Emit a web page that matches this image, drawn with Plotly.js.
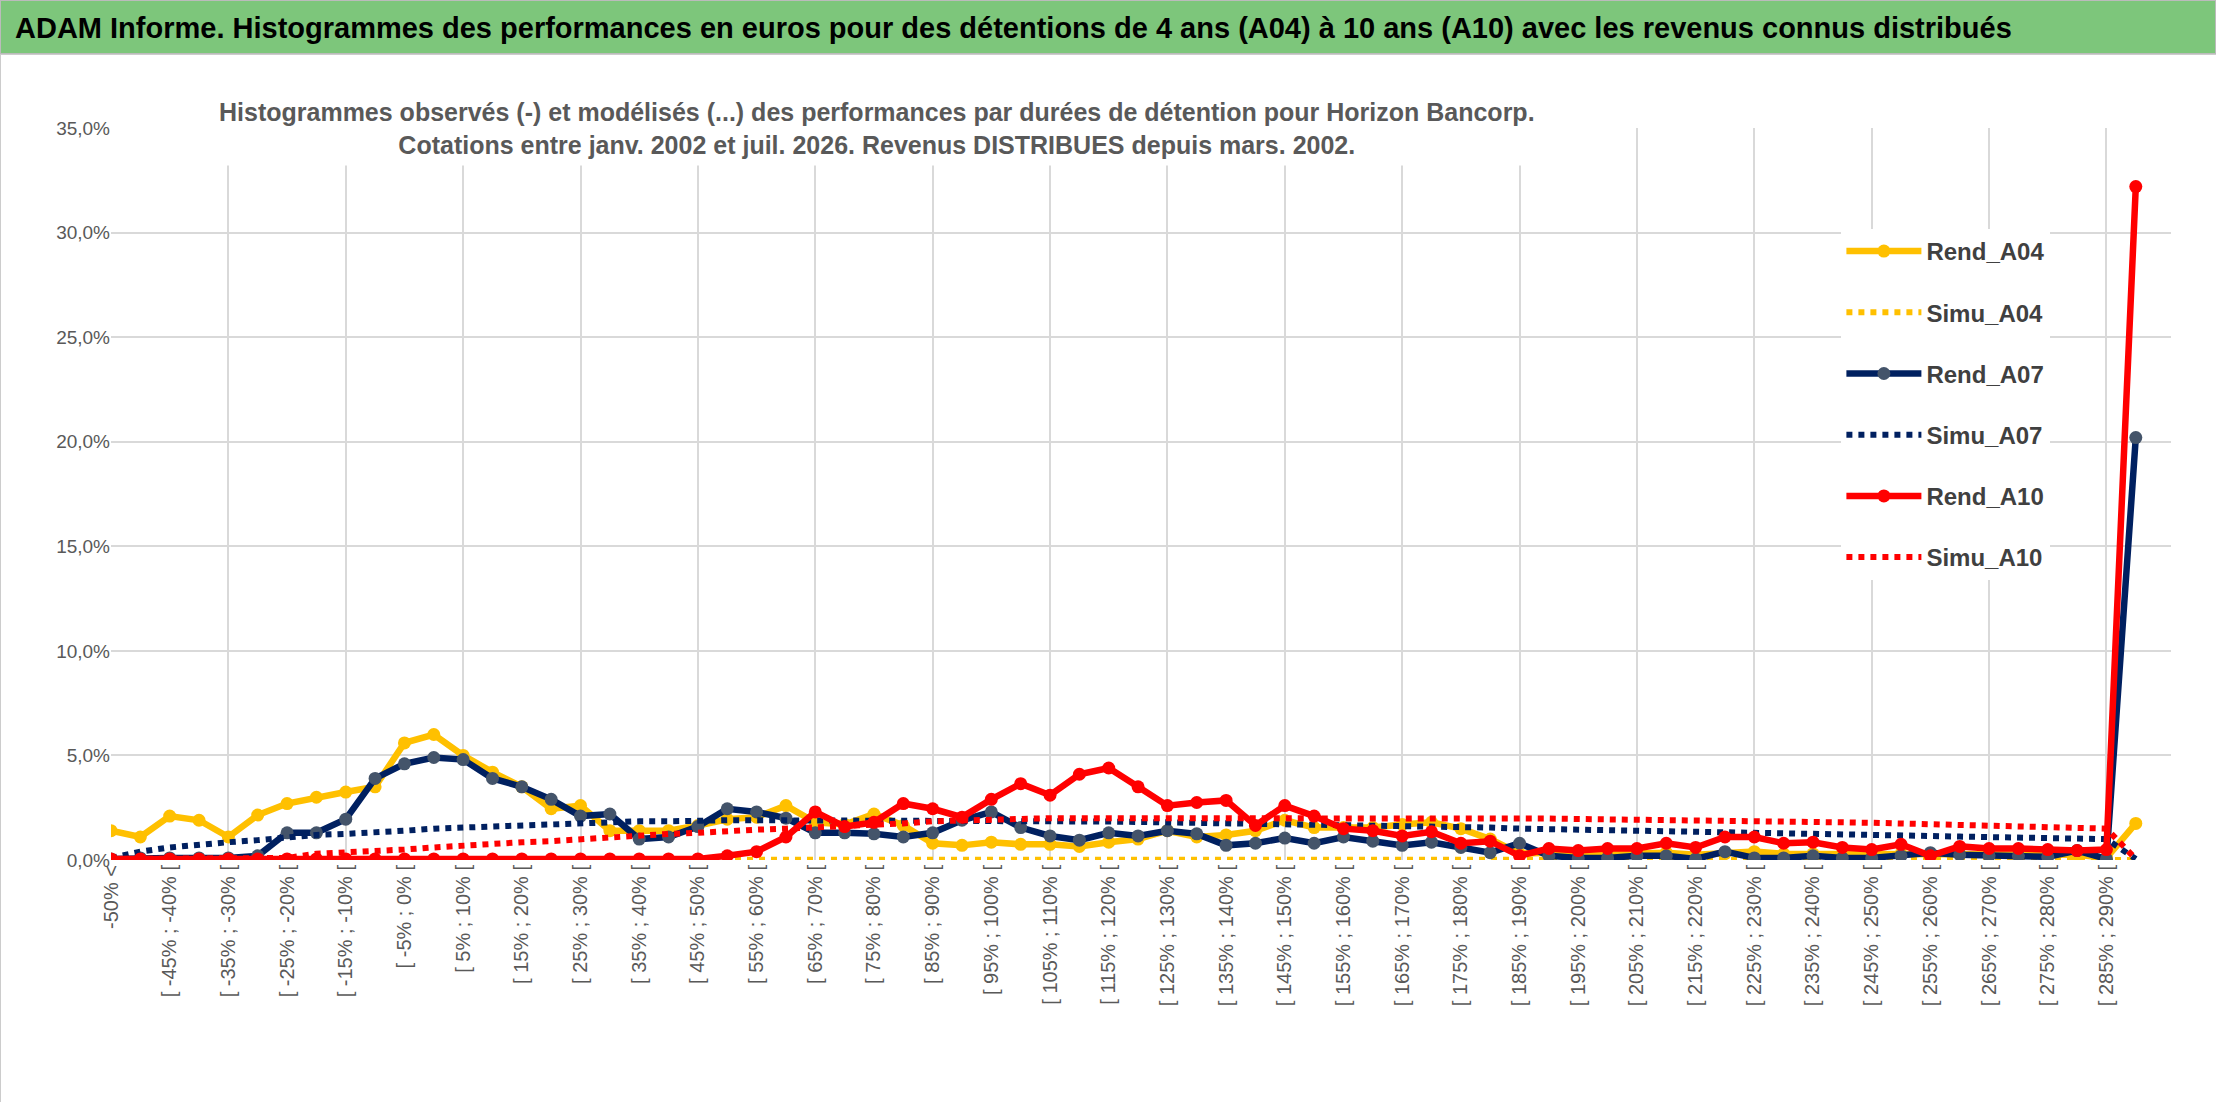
<!DOCTYPE html>
<html><head><meta charset="utf-8">
<script src="https://cdn.plot.ly/plotly-3.0.1.min.js"></script>
<style>
body{margin:0;width:2216px;height:1102px;overflow:hidden;background:#fff;font-family:"Liberation Sans Narrow","Liberation Sans",sans-serif}
#hdr{height:54px;background:#7dc67b;color:#000;font-weight:bold;font-size:29px;line-height:54px;padding-left:14px;white-space:nowrap;border:1px solid #bbb;box-sizing:border-box}
#chart{width:2216px;height:1048px;border:1px solid #ccc;box-sizing:border-box}
</style></head><body>
<div id="hdr">ADAM Informe. Histogrammes des performances en euros pour des détentions de 4 ans (A04) à 10 ans (A10) avec les revenus connus distribués</div>
<div id="chart"></div>
<script>
const categories = ["-50% &lt;"];
for (let a = -50; a < 290; a += 5) categories.push("[ " + a + "% ; " + (a + 5) + "% [");
categories.push("&gt; 290%");

const rendA04 = [1.4,1.1,2.1,1.9,1.1,2.15,2.7,3.0,3.25,3.5,5.6,6.0,5.0,4.2,3.5,2.45,2.6,1.4,1.4,1.4,1.65,1.95,2.05,2.6,1.8,1.7,2.2,1.65,0.8,0.7,0.85,0.75,0.75,0.65,0.85,1.0,1.4,1.1,1.2,1.4,1.9,1.55,1.55,1.55,1.7,1.8,1.5,1.0,0.3,0.35,0.25,0.3,0.3,0.35,0.25,0.3,0.4,0.3,0.3,0.25,0.3,0.3,0.25,0.3,0.3,0.25,0.3,0.25,0.1,1.75];
const simuA04 = [0.02,0.02,0.02,0.02,0.02,0.02,0.02,0.02,0.02,0.02,0.02,0.02,0.02,0.02,0.02,0.02,0.02,0.02,0.02,0.02,0.02,0.02,0.02,0.02,0.02,0.02,0.02,0.02,0.02,0.02,0.02,0.02,0.02,0.02,0.02,0.02,0.02,0.02,0.02,0.02,0.02,0.02,0.02,0.02,0.02,0.02,0.02,0.02,0.02,0.02,0.02,0.02,0.02,0.02,0.02,0.02,0.02,0.02,0.02,0.02,0.02,0.02,0.02,0.02,0.02,0.02,0.02,0.02,0.02,0.0];
const rendA07 = [0.05,0.1,0.1,0.1,0.1,0.2,1.3,1.3,1.95,3.9,4.6,4.9,4.8,3.9,3.5,2.9,2.1,2.2,1.0,1.1,1.6,2.45,2.3,2.0,1.3,1.3,1.25,1.1,1.3,1.9,2.3,1.55,1.15,0.95,1.3,1.15,1.4,1.25,0.7,0.8,1.05,0.8,1.1,0.9,0.7,0.85,0.6,0.35,0.8,0.2,0.1,0.1,0.2,0.2,0.05,0.4,0.1,0.1,0.2,0.1,0.1,0.2,0.35,0.25,0.2,0.2,0.15,0.45,0.05,20.2];
const simuA07 = [0.1,0.4,0.6,0.75,0.85,0.95,1.1,1.2,1.25,1.3,1.4,1.5,1.55,1.6,1.7,1.72,1.75,1.8,1.85,1.85,1.9,1.9,1.9,1.9,1.9,1.9,1.9,1.9,1.9,1.9,1.9,1.88,1.86,1.85,1.84,1.82,1.8,1.78,1.76,1.75,1.72,1.7,1.68,1.66,1.64,1.62,1.6,1.55,1.5,1.48,1.45,1.43,1.4,1.38,1.35,1.32,1.3,1.28,1.25,1.22,1.2,1.18,1.15,1.12,1.1,1.08,1.05,1.02,1.0,0.05];
const rendA10 = [0.05,0.05,0.05,0.05,0.05,0.05,0.05,0.05,0.05,0.05,0.05,0.05,0.05,0.05,0.05,0.05,0.05,0.05,0.05,0.05,0.05,0.2,0.4,1.1,2.3,1.6,1.8,2.7,2.45,2.05,2.9,3.65,3.1,4.1,4.4,3.5,2.6,2.75,2.85,1.65,2.6,2.1,1.5,1.4,1.15,1.35,0.8,0.9,0.2,0.55,0.45,0.55,0.55,0.8,0.6,1.1,1.1,0.8,0.85,0.6,0.5,0.75,0.2,0.65,0.55,0.55,0.5,0.45,0.5,32.2];
const simuA10 = [0.05,0.05,0.05,0.05,0.05,0.05,0.1,0.3,0.35,0.45,0.5,0.6,0.7,0.75,0.85,0.9,1.0,1.1,1.15,1.25,1.3,1.4,1.45,1.5,1.55,1.6,1.7,1.75,1.85,1.9,1.95,1.95,2.0,2.0,2.0,2.0,2.0,2.05,2.05,2.05,2.05,2.05,2.05,2.05,2.05,2.05,2.0,2.0,2.0,1.98,1.96,1.95,1.94,1.92,1.9,1.88,1.86,1.84,1.82,1.8,1.78,1.75,1.72,1.7,1.66,1.62,1.58,1.54,1.5,0.05];

const yTickVals = [0,5,10,15,20,25,30,35];
const yTickText = ["0,0%","5,0%","10,0%","15,0%","20,0%","25,0%","30,0%","35,0%"];

const idx = categories.map((_, i) => i);
const xTickVals = idx.filter(i => i % 2 === 0 && i <= 68);
const xTickText = xTickVals.map(i => categories[i]);

function rend(name, y, line, marker) {
  return {x: idx, y: y, name: name, type: 'scatter', mode: 'lines+markers',
    line: {color: line, width: 6.5}, marker: {color: marker, size: 13},
    legendgroup: name};
}
function simu(name, y, color) {
  return {x: idx, y: y, name: name, type: 'scatter', mode: 'lines',
    line: {color: color, width: 6, dash: 'dot'}, legendgroup: name};
}
const traces = [
  rend('Rend_A04', rendA04, '#ffc000', '#ffc000'),
  simu('Simu_A04', simuA04, '#ffc000'),
  rend('Rend_A07', rendA07, '#002060', '#44546a'),
  simu('Simu_A07', simuA07, '#002060'),
  rend('Rend_A10', rendA10, '#ff0000', '#ff0000'),
  simu('Simu_A10', simuA10, '#ff0000'),
  {x: [0, 70], y: [0, 0], xaxis: 'x2', mode: 'lines', line: {width: 0}, showlegend: false, hoverinfo: 'skip'}
];
const layout = {
  width: 2216, height: 1048,
  margin: {l: 110, r: 46, t: 73, b: 243},
  paper_bgcolor: '#fff', plot_bgcolor: '#fff',
  font: {family: '"Liberation Sans Narrow","Liberation Sans",sans-serif', color: '#595959'},
  showlegend: true,
  legend: {x: 0.84, y: 0.862, xanchor: 'left', yanchor: 'top', itemwidth: 75,
    font: {size: 24, color: '#404040', weight: 'bold'},
    traceorder: 'grouped', tracegroupgap: 27, bgcolor: '#fff'},
  xaxis: {range: [0, 70.2], tickvals: xTickVals, ticktext: xTickText, tickangle: -90,
    tickfont: {size: 20, color: '#595959'}, showgrid: false, zeroline: false, showline: false, ticks: ''},
  xaxis2: {range: [0, 70.2], overlaying: 'x', dtick: 4, tick0: 0, showgrid: true, gridcolor: '#d9d9d9',
    gridwidth: 2, showticklabels: false, zeroline: false, ticks: '', layer: 'below traces'},
  yaxis: {range: [0, 35], tickvals: yTickVals, ticktext: yTickText, tickfont: {size: 19, color: '#595959'},
    showgrid: true, gridcolor: '#d9d9d9', gridwidth: 2, zeroline: false, showline: false, ticks: ''},
  annotations: [{xref: 'paper', yref: 'paper', x: 0.372, y: 1.0, xanchor: 'center', yanchor: 'middle',
    showarrow: false, bgcolor: '#fff', borderpad: 6,
    text: 'Histogrammes observés (-) et modélisés (...) des performances par durées de détention pour Horizon Bancorp.<br>Cotations entre janv. 2002 et juil. 2026. Revenus DISTRIBUES depuis mars. 2002.',
    font: {size: 25, color: '#595959', family: '"Liberation Sans Narrow","Liberation Sans",sans-serif', weight: 'bold'}}]
};
Plotly.newPlot('chart', traces, layout, {displayModeBar: false});
</script></body></html>
